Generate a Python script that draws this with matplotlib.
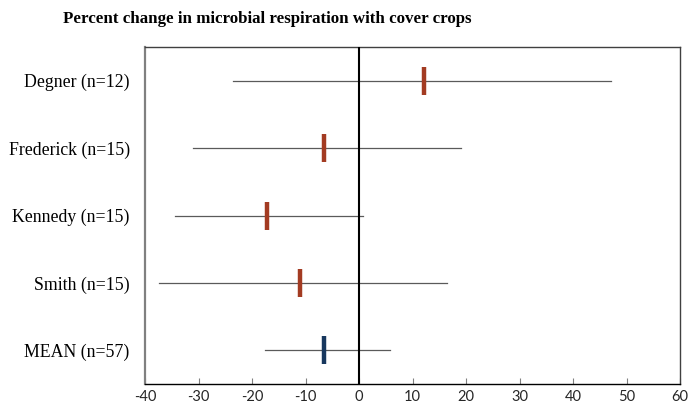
import matplotlib
matplotlib.use("Agg")
import matplotlib.pyplot as plt

# Study data
studies = ["Degner (n=12)", "Frederick (n=15)", "Kennedy (n=15)", "Smith (n=15)", "MEAN (n=57)"]
effect = [12.2, -6.5, -17.2, -11.0, -6.5]
ci_low = [-23.5, -31.0, -34.4, -37.4, -17.6]
ci_high = [47.1, 19.1, 0.8, 16.4, 5.8]
colors = ["#A33B22", "#A33B22", "#A33B22", "#A33B22", "#17375E"]
xticks = [-40, -30, -20, -10, 0, 10, 20, 30, 40, 50, 60]

fig = plt.figure(figsize=(6.88, 4.11), dpi=100)
ax = fig.add_axes([145/688, 1 - 384/411, 535/688, 337/411])

ypos = [i + 0.5 for i in range(len(studies))]

for y, lo, hi in zip(ypos, ci_low, ci_high):
    ax.plot([lo, hi], [y, y], color="#5a5a5a", lw=0.9, zorder=2)

ax.axvline(0, color="black", lw=1.5, zorder=3)

for y, e, c in zip(ypos, effect, colors):
    ax.plot([e], [y], marker="|", markersize=19.5, markeredgewidth=3.2,
            color=c, zorder=4, linestyle="none")

ax.set_xlim(-40, 60)
ax.set_ylim(5, 0)
ax.set_xticks(xticks)
ax.set_xticklabels([str(t) for t in xticks], fontfamily="Lato", fontsize=10.5,
                   color="#262626")
ax.set_yticks(ypos)
ax.set_yticklabels(studies, fontfamily="Liberation Serif", fontsize=12.8)
ax.tick_params(axis="y", length=0, pad=11)
ax.tick_params(axis="x", direction="in", length=4, color="#808080", pad=4)

for side in ["top", "right"]:
    ax.spines[side].set_color("#404040")
    ax.spines[side].set_linewidth(1.0)
ax.spines["left"].set_color("#808080")
ax.spines["left"].set_linewidth(1.6)
ax.spines["bottom"].set_color("black")
ax.spines["bottom"].set_linewidth(1.0)

fig.text(0.388, 0.954, "Percent change in microbial respiration with cover crops",
         ha="center", va="center", fontfamily="Liberation Serif",
         fontweight="bold", fontsize=12.2)

fig.savefig("out.png", dpi=100)
